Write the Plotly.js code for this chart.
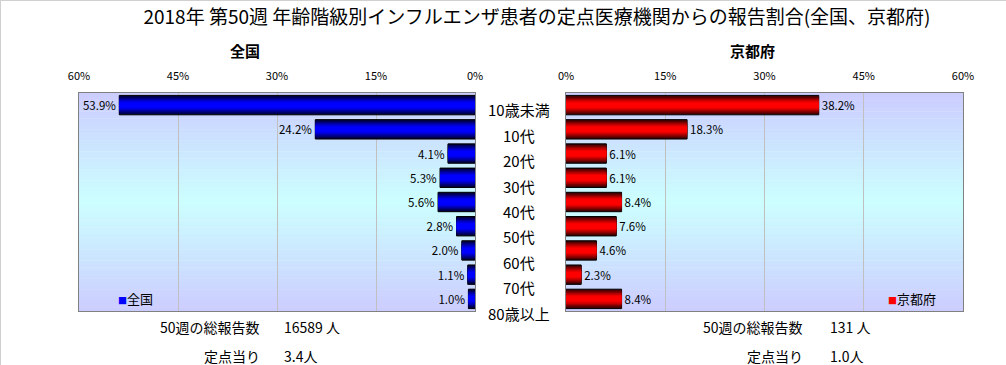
<!DOCTYPE html>
<html>
<head>
<meta charset="utf-8">
<script src="https://cdn.plot.ly/plotly-3.0.1.min.js"></script>
<style>
  html, body { margin: 0; padding: 0; background: #ffffff; }
  #chart { width: 1006px; height: 365px; }
</style>
</head>
<body>
<div id="chart"></div>
<script>
// ---- data ----
const categories = ['10歳未満', '10代', '20代', '30代', '40代', '50代', '60代', '70代', '80歳以上'];
const zenkokuValues = [53.9, 24.2, 4.1, 5.3, 5.6, 2.8, 2.0, 1.1, 1.0];
const kyotoValues = [38.2, 18.3, 6.1, 6.1, 8.4, 7.6, 4.6, 2.3, 8.4];
const tickValues = [0, 15, 30, 45, 60];
const tickLabels = ['0%', '15%', '30%', '45%', '60%'];
const chartTitle = '2018年 第50週 年齢階級別インフルエンザ患者の定点医療機関からの報告割合(全国、京都府)';
const leftTitle = '全国';
const rightTitle = '京都府';
const totalLabel = '50週の総報告数';
const perPointLabel = '定点当り';
const zenkokuTotal = '16589 人';
const zenkokuPerPoint = '3.4人';
const kyotoTotal = '131 人';
const kyotoPerPoint = '1.0人';

// ---- styles ----
const W = 1006, H = 365;
const FONT = 'Noto Sans CJK JP, Noto Sans, sans-serif';
const px = v => v / W;
const py = v => 1 - v / H;
const yDom = [py(311), py(93)];
const xDomL = [px(79), px(475)];
const xDomR = [px(566), px(963)];

const blueShades = ['#000038', '#000058', '#00007c', '#0000a4', '#0000c8', '#0000e6', '#0000ff'];
const redShades  = ['#380000', '#580000', '#7c0000', '#a40000', '#c80000', '#e60000', '#ff0000'];
const widthFactors = [1, 0.88, 0.76, 0.64, 0.52, 0.40, 0.28];
const BAR_W = 0.8;

const traces = [];
function addBars(values, shades, xa, ya) {
  shades.forEach((c, i) => {
    const t = {
      type: 'bar', orientation: 'h',
      x: values, y: categories,
      xaxis: xa, yaxis: ya,
      width: BAR_W * widthFactors[i],
      marker: { color: c, line: { color: '#000000', width: i === 0 ? 1 : 0 } },
      hoverinfo: 'skip', showlegend: false
    };
    if (i === 0) {
      t.texttemplate = '%{x:.1f}%';
      t.textposition = 'outside';
      t.textfont = { family: FONT, size: 11.5, color: '#000000' };
      t.cliponaxis = false;
    }
    traces.push(t);
  });
}
addBars(zenkokuValues, blueShades, 'x', 'y');
addBars(kyotoValues, redShades, 'x2', 'y2');
// dummy trace for the category label axis (middle column)
traces.push({ type: 'scatter', mode: 'none', x: categories.map(() => 0), y: categories,
  xaxis: 'x3', yaxis: 'y3', hoverinfo: 'skip', showlegend: false });

// background gradient strips (lavender -> light cyan -> lavender)
const shapes = [];
const N = 60;
function mix(t) {
  const d = 1 - Math.abs(t - 0.5) * 2; // 0 at edges, 1 in middle
  const g = Math.round(204 + (255 - 204) * d);
  return `rgb(204,${g},255)`;
}
[['x domain', 'y domain'], ['x2 domain', 'y2 domain']].forEach(([xr, yr]) => {
  for (let i = 0; i < N; i++) {
    const t = (i + 0.5) / N;
    shapes.push({ type: 'rect', xref: xr, yref: yr, x0: 0, x1: 1,
      y0: 1 - i / N, y1: 1 - (i + 1) / N - 0.002,
      fillcolor: mix(t), line: { width: 0 }, layer: 'below' });
  }
});
// outer frame lines (top, left)
shapes.push({ type: 'line', xref: 'paper', yref: 'paper', x0: 0, x1: 1, y0: 1, y1: 1, line: { color: '#d0d0d0', width: 2 } });
shapes.push({ type: 'line', xref: 'paper', yref: 'paper', x0: 0, x1: 0, y0: 0, y1: 1, line: { color: '#d0d0d0', width: 2 } });

const annotations = [];
categories.forEach(c => annotations.push({ xref: 'paper', yref: 'y3', x: px(519), y: c, text: c,
  showarrow: false, xanchor: 'center', yanchor: 'middle', font: { family: FONT, size: 15, color: '#000' } }));
annotations.push({ xref: 'paper', yref: 'paper', x: px(245), y: py(51), text: '<b>' + leftTitle + '</b>',
  showarrow: false, xanchor: 'center', yanchor: 'middle', font: { family: FONT, size: 15, color: '#000' } });
annotations.push({ xref: 'paper', yref: 'paper', x: px(752), y: py(51), text: '<b>' + rightTitle + '</b>',
  showarrow: false, xanchor: 'center', yanchor: 'middle', font: { family: FONT, size: 15, color: '#000' } });
// legends
annotations.push({ xref: 'paper', yref: 'paper', x: px(116), y: py(298),
  text: '<span style="color:#0000ff;font-size:9px">■</span>' + leftTitle,
  showarrow: false, xanchor: 'left', yanchor: 'middle', font: { family: FONT, size: 13, color: '#000' } });
annotations.push({ xref: 'paper', yref: 'paper', x: px(886), y: py(298),
  text: '<span style="color:#ff0000;font-size:9px">■</span>' + rightTitle,
  showarrow: false, xanchor: 'left', yanchor: 'middle', font: { family: FONT, size: 13, color: '#000' } });
// bottom summary texts
function addText(x, y, text, anchor) {
  annotations.push({ xref: 'paper', yref: 'paper', x: px(x), y: py(y), text: text, showarrow: false,
    xanchor: anchor, yanchor: 'middle', font: { family: FONT, size: 14, color: '#000' } });
}
addText(262, 327, totalLabel, 'right');
addText(282, 327, zenkokuTotal, 'left');
addText(262, 356, perPointLabel, 'right');
addText(282, 356, zenkokuPerPoint, 'left');
addText(805, 327, totalLabel, 'right');
addText(828, 327, kyotoTotal, 'left');
addText(805, 356, perPointLabel, 'right');
addText(828, 356, kyotoPerPoint, 'left');

const xCommon = {
  side: 'top', tickvals: tickValues, ticktext: tickLabels,
  showgrid: true, gridcolor: '#c0c0c0', gridwidth: 1, zeroline: false,
  showline: true, mirror: true, linecolor: '#808080', linewidth: 1,
  ticks: '', ticklabelstandoff: 8,
  tickfont: { family: FONT, size: 11, color: '#000' }, fixedrange: true
};
const yCommon = {
  type: 'category', categoryarray: categories, categoryorder: 'array',
  range: [categories.length - 0.5, -0.5], domain: yDom,
  showticklabels: false, showgrid: false, zeroline: false,
  showline: true, mirror: true, linecolor: '#808080', linewidth: 1, ticks: '', fixedrange: true
};

const layout = {
  width: W, height: H,
  margin: { l: 0, r: 0, t: 0, b: 0 },
  paper_bgcolor: '#ffffff', plot_bgcolor: 'rgba(0,0,0,0)',
  barmode: 'overlay', showlegend: false,
  title: { text: chartTitle, x: px(537), xref: 'paper', xanchor: 'center', y: py(17), yref: 'paper', yanchor: 'middle',
    font: { family: FONT, size: 19, color: '#000' } },
  xaxis: Object.assign({}, xCommon, { domain: xDomL, range: [60, 0], anchor: 'y' }),
  xaxis2: Object.assign({}, xCommon, { domain: xDomR, range: [0, 60], anchor: 'y2' }),
  yaxis: Object.assign({}, yCommon, { anchor: 'x' }),
  yaxis2: Object.assign({}, yCommon, { anchor: 'x2' }),
  xaxis3: { domain: [px(476), px(565)], visible: false, anchor: 'y3', fixedrange: true, showgrid: false, zeroline: false },
  yaxis3: { domain: [py(326), py(97)], visible: false, anchor: 'x3', type: 'category',
    categoryarray: categories, categoryorder: 'array', range: [categories.length - 0.5, -0.5],
    showgrid: false, zeroline: false, fixedrange: true },
  shapes: shapes,
  annotations: annotations
};

Plotly.newPlot('chart', traces, layout, { displayModeBar: false, staticPlot: true });
</script>
</body>
</html>
